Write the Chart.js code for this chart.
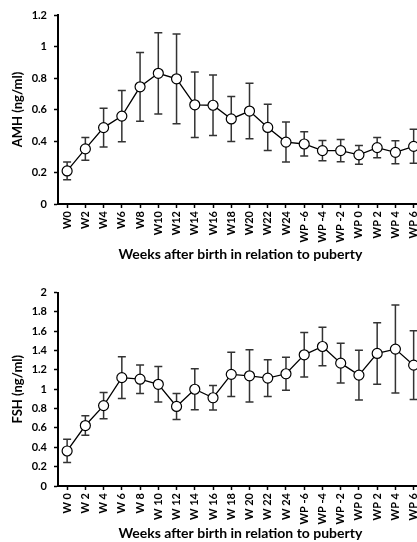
<!DOCTYPE html>
<html>
<head>
<meta charset="utf-8">
<script src="https://cdn.jsdelivr.net/npm/chart.js@4/dist/chart.umd.min.js"></script>
<style>
  html, body { margin: 0; padding: 0; background: #fff; width: 417px; height: 542px; overflow: hidden; }
  .wrap { position: absolute; left: 0; }
  #amhWrap { top: 0; }
  #fshWrap { top: 278px; }
</style>
</head>
<body>
<div class="wrap" id="amhWrap"><canvas id="amhChart" width="430" height="265"></canvas></div>
<div class="wrap" id="fshWrap"><canvas id="fshChart" width="430" height="264"></canvas></div>
<script>
  // weeks after birth, then weeks relative to puberty
  var amhLabels = ["W0", "W2", "W4", "W6", "W8", "W10", "W12", "W14", "W16", "W18", "W20", "W22", "W24",
    "WP -6", "WP -4", "WP -2", "WP 0", "WP 2", "WP 4", "WP 6"]
  var fshLabels = ["W 0", "W 2", "W 4", "W 6", "W 8", "W 10", "W 12", "W 14", "W 16", "W 18", "W 20", "W 22", "W 24",
    "WP -6", "WP -4", "WP -2", "WP 0", "WP 2", "WP 4", "WP 6"]

  var amhMean = [0.21, 0.35, 0.485, 0.558, 0.744, 0.83, 0.795, 0.63, 0.627, 0.54, 0.59, 0.486, 0.393,
    0.381, 0.339, 0.339, 0.312, 0.358, 0.328, 0.366]
  var amhErr = [0.056, 0.072, 0.123, 0.163, 0.218, 0.258, 0.285, 0.208, 0.192, 0.143, 0.176, 0.147, 0.127,
    0.077, 0.064, 0.071, 0.059, 0.065, 0.073, 0.108]

  var fshMean = [0.362, 0.625, 0.831, 1.12, 1.104, 1.051, 0.822, 1.0, 0.912, 1.154, 1.139, 1.115, 1.16,
    1.356, 1.442, 1.27, 1.146, 1.37, 1.415, 1.249]
  var fshErr = [0.12, 0.1, 0.136, 0.216, 0.147, 0.184, 0.135, 0.212, 0.127, 0.229, 0.27, 0.19, 0.17,
    0.23, 0.2, 0.206, 0.256, 0.318, 0.455, 0.355]

  var amhTicks = { min: 0, max: 1.2, step: 0.2 }
  var fshTicks = { min: 0, max: 2, step: 0.2 }

  var FONT = "Lato, 'Open Sans', 'DejaVu Sans', sans-serif"

  // error bars drawn under the markers
  var errorBars = {
    id: "errorBars",
    beforeDatasetsDraw: function (chart, args, opts) {
      var ctx = chart.ctx
      var x = chart.scales.x
      var y = chart.scales.y
      var mean = chart.data.datasets[0].data
      var err = opts.err
      ctx.save()
      ctx.strokeStyle = "#333"
      ctx.lineWidth = 1.5
      for (var i = 0; i < mean.length; i++) {
        var px = x.getPixelForValue(i)
        var top = y.getPixelForValue(mean[i] + err[i])
        var bot = y.getPixelForValue(mean[i] - err[i])
        ctx.beginPath()
        ctx.moveTo(px, top)
        ctx.lineTo(px, bot)
        ctx.moveTo(px - 4, top)
        ctx.lineTo(px + 4, top)
        ctx.moveTo(px - 4, bot)
        ctx.lineTo(px + 4, bot)
        ctx.stroke()
      }
      ctx.restore()
    },
  }

  function makeChart(id, labels, mean, err, ticks, yTitle, padTop, titleBottom, areaBottom) {
    var ctx = document.getElementById(id).getContext("2d")
    return new Chart(ctx, {
      type: "line",
      data: {
        labels: labels,
        datasets: [
          {
            data: mean,
            borderColor: "#000",
            borderWidth: 1.3,
            pointRadius: 5,
            pointBackgroundColor: "#fff",
            pointBorderColor: "#000",
            pointBorderWidth: 1.2,
            tension: 0,
          },
        ],
      },
      options: {
        responsive: false,
        animation: false,
        events: [],
        layout: { padding: { top: padTop, right: 6, left: 0, bottom: 0 } },
        plugins: {
          legend: { display: false },
          tooltip: { enabled: false },
          errorBars: { err: err },
        },
        scales: {
          x: {
            offset: true,
            grid: { display: true, drawOnChartArea: false, drawTicks: true, tickLength: 4, tickColor: "#000", tickWidth: 1.5, offset: false },
            border: { color: "#000", width: 2 },
            ticks: {
              autoSkip: false,
              minRotation: 90,
              maxRotation: 90,
              padding: 3,
              color: "#000",
              font: { family: FONT, size: 11, weight: "bold" },
            },
            title: {
              display: true,
              text: "Weeks after birth in relation to puberty",
              color: "#000",
              font: { family: FONT, size: 14, weight: "bold" },
              padding: { top: 0, bottom: titleBottom },
            },
            afterFit: function (scale) {
              scale.height = scale.chart.height - areaBottom
            },
          },
          y: {
            min: ticks.min,
            max: ticks.max,
            grid: { display: true, drawOnChartArea: false, drawTicks: true, tickLength: 4, tickColor: "#000", tickWidth: 1.5 },
            border: { color: "#000", width: 2 },
            ticks: {
              stepSize: ticks.step,
              padding: 7,
              color: "#000",
              font: { family: FONT, size: 11, weight: "bold" },
              callback: function (v) {
                return String(Number(v.toFixed(1)))
              },
            },
            title: {
              display: true,
              text: yTitle,
              color: "#000",
              font: { family: FONT, size: 13, weight: "bold" },
              padding: { top: 10, bottom: 0 },
            },
            afterFit: function (scale) {
              scale.width = 58
            },
          },
        },
      },
      plugins: [errorBars],
    })
  }

  makeChart("amhChart", amhLabels, amhMean, amhErr, amhTicks, "AMH (ng/ml)", 15, 2, 204)
  makeChart("fshChart", fshLabels, fshMean, fshErr, fshTicks, "FSH (ng/ml)", 14.5, 0, 208)
</script>
</body>
</html>
